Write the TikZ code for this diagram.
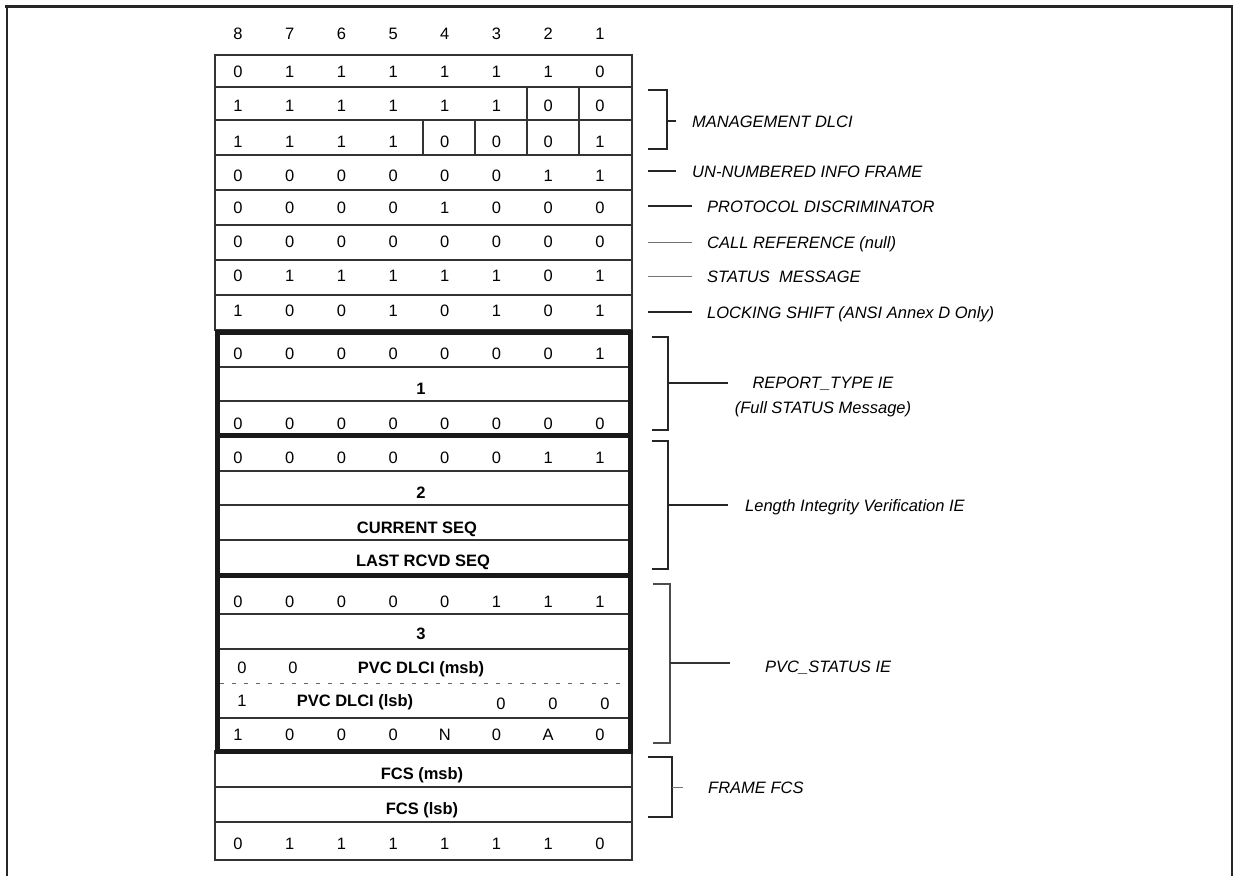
\documentclass[tikz,border=0pt]{standalone}
\usepackage{fontspec}
\setmainfont{Liberation Sans}
\usetikzlibrary{positioning}

% fila de 8 bits, columnas 8..1
\newcommand{\bitrow}[3]{%
  \foreach \b [count=\i] in {#3} {
    \node[bit] (#1-\i) at ({238+51.7*(\i-1)}, #2) {\b};
  }}

\begin{document}
\begin{tikzpicture}[x=1pt, y=-1pt,
    bit/.style={anchor=base, inner sep=0pt, font=\fontsize{16.5}{20}\selectfont},
    field/.style={anchor=base, inner sep=0pt, font=\bfseries\fontsize{16.5}{20}\selectfont},
    lbl/.style={anchor=base west, inner sep=0pt, font=\itshape\fontsize{16.5}{20}\selectfont},
    cellline/.style={black!80, line width=1.1},
    thickbox/.style={black!90, line width=5},
    bracketline/.style={black!85, line width=1.4},
    leaderlight/.style={black!55, line width=0.9}]
    \useasboundingbox (0,0) rectangle (1233,876);

    % --- Marco exterior ---
    \draw[black!85, line width=3] (5,6.5) -- (1233,6.5);
    \draw[black!85, line width=2] (6.5,5) -- (6.5,876);
    \draw[black!85, line width=2] (1231.5,5) -- (1231.5,876);

    % --- Numeros de bit ---
    \bitrow{hdr}{39}{8,7,6,5,4,3,2,1}

    % --- Cabecera (celdas finas) ---
    \draw[cellline] (215,55) rectangle (632,330);
    \foreach \yy in {87,120,155,190,225,260,295}
      \draw[cellline] (215,\yy) -- (632,\yy);
    \foreach \xx in {527,579}
      \draw[cellline] (\xx,87) -- (\xx,120);
    \foreach \xx in {423,475,527,579}
      \draw[cellline] (\xx,120) -- (\xx,155);

    % --- Lineas internas de los IE y FCS ---
    \foreach \yy in {367,401,471,505,540,614,649,718}
      \draw[cellline] (217,\yy) -- (630,\yy);
    \draw[black!60, line width=1, dash pattern=on 4pt off 8pt] (220,683) -- (628,683);
    \draw[cellline] (215,751) rectangle (632,860);
    \foreach \yy in {787,822}
      \draw[cellline] (215,\yy) -- (632,\yy);

    % --- Cajas gruesas de los IE ---
    \foreach \ya/\yb in {332.5/435, 435/575.5, 575.5/751}
      \draw[thickbox] (217.5,\ya) rectangle (630.5,\yb);

    % --- Contenido de la cabecera ---
    \bitrow{r1}{77}{0,1,1,1,1,1,1,0}
    \bitrow{r2}{111}{1,1,1,1,1,1,0,0}
    \bitrow{r3}{147}{1,1,1,1,0,0,0,1}
    \bitrow{r4}{181}{0,0,0,0,0,0,1,1}
    \bitrow{r5}{213}{0,0,0,0,1,0,0,0}
    \bitrow{r6}{247}{0,0,0,0,0,0,0,0}
    \bitrow{r7}{281}{0,1,1,1,1,1,0,1}
    \bitrow{r8}{316}{1,0,0,1,0,1,0,1}

    % --- REPORT_TYPE IE ---
    \bitrow{rt1}{359}{0,0,0,0,0,0,0,1}
    \node[field] (ie1) at (421,394) {1};
    \bitrow{rt3}{429}{0,0,0,0,0,0,0,0}

    % --- Length Integrity Verification IE ---
    \bitrow{li1}{463}{0,0,0,0,0,0,1,1}
    \node[field] (ie2) at (421,498) {2};
    \node[field] (cseq) at (417,533) {CURRENT SEQ};
    \node[field] (lseq) at (423,566) {LAST RCVD SEQ};

    % --- PVC_STATUS IE ---
    \bitrow{ps1}{607}{0,0,0,0,0,1,1,1}
    \node[field] (ie3) at (421,639) {3};
    \node[bit] (msb-1) at (242,673) {0};
    \node[bit] (msb-2) at (293,673) {0};
    \node[field] (dlcimsb) at (421,673) {PVC DLCI (msb)};
    \node[bit] (lsb-1) at (242,706) {1};
    \node[field] (dlcilsb) at (355,706) {PVC DLCI (lsb)};
    \foreach \xx [count=\i from 6] in {501,553,605}
      \node[bit] (lsb-\i) at (\xx,709) {0};
    \bitrow{ps5}{740}{1,0,0,0,N,0,A,0}

    % --- FCS y bandera final ---
    \node[field] (fcsmsb) at (422,779) {FCS (msb)};
    \node[field] (fcslsb) at (422,814) {FCS (lsb)};
    \bitrow{flag}{849}{0,1,1,1,1,1,1,0}

    % --- Corchetes y etiquetas ---
    \draw[bracketline] (648,90) -- (667,90) -- (667,149) -- (648,149);
    \coordinate (mgmt) at (667,121);
    \draw[bracketline] (mgmt) -- ++(9,0);
    \node[lbl] (mgmtlbl) at (692,127) {MANAGEMENT DLCI};

    \coordinate (ui) at (648,171);
    \draw[bracketline] (ui) -- ++(28,0);
    \node[lbl] (uilbl) at (692,177) {UN-NUMBERED INFO FRAME};

    \coordinate (pd) at (648,206);
    \draw[bracketline] (pd) -- ++(44,0);
    \node[lbl] (pdlbl) at (707,212) {PROTOCOL DISCRIMINATOR};

    \coordinate (cr) at (648,242);
    \draw[leaderlight] (cr) -- ++(44,0);
    \node[lbl] (crlbl) at (707,248) {CALL REFERENCE (null)};

    \coordinate (sm) at (648,276);
    \draw[leaderlight] (sm) -- ++(44,0);
    \node[lbl] (smlbl) at (707,282) {STATUS\ \ MESSAGE};

    \coordinate (ls) at (648,312);
    \draw[bracketline] (ls) -- ++(44,0);
    \node[lbl] (lslbl) at (707,318) {LOCKING SHIFT (ANSI Annex D Only)};

    \draw[bracketline] (652,337) -- (668,337) -- (668,430) -- (652,430);
    \coordinate (rt) at (668,383);
    \draw[bracketline] (rt) -- ++(60,0);
    \node[align=center, inner sep=0pt, font=\itshape\fontsize{16.5}{25}\selectfont]
      (rtlbl) at (823,397) {REPORT\_TYPE IE\\(Full STATUS Message)};

    \draw[bracketline] (652,441) -- (668,441) -- (668,569) -- (652,569);
    \coordinate (li) at (668,505);
    \draw[bracketline] (li) -- ++(60,0);
    \node[lbl] (lilbl) at (745,511) {Length Integrity Verification IE};

    \draw[black!70, line width=1.3] (653,584) -- (670,584) -- (670,743) -- (653,743);
    \coordinate (ps) at (670,663);
    \draw[black!80, line width=1.3] (ps) -- ++(60,0);
    \node[lbl] (pslbl) at (765,672) {PVC\_STATUS IE};

    \draw[bracketline] (648,757) -- (672,757) -- (672,817) -- (648,817);
    \coordinate (fc) at (672,787);
    \draw[leaderlight] (fc) -- ++(11,0);
    \node[lbl] (fclbl) at (708,793) {FRAME FCS};

\end{tikzpicture}
\end{document}
